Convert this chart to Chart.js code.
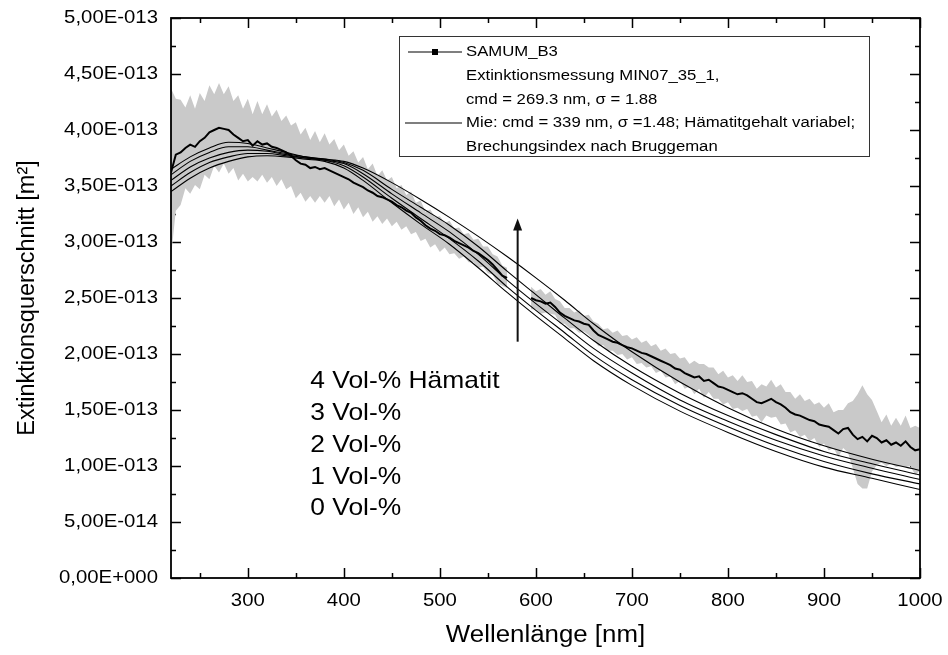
<!DOCTYPE html>
<html>
<head>
<meta charset="utf-8">
<script src="https://cdn.jsdelivr.net/npm/chart.js@4.4.1/dist/chart.umd.min.js"></script>
<style>
  html, body { margin: 0; padding: 0; background: #fff; }
  canvas { display: block; }
</style>
</head>
<body>
<canvas id="chart" width="948" height="655"></canvas>
<script>
// Measured extinction cross section (units of 1e-13 m^2) with its standard deviation
const wavelength = [
  220,225,230,235,240,245,250,255,260,265,270,275,280,285,290,295,300,305,310,315,
  320,325,330,335,340,345,350,355,360,365,370,375,380,385,390,395,400,405,410,415,
  420,425,430,435,440,445,450,455,460,465,470,475,480,485,490,495,500,505,510,515,
  520,525,530,535,540,545,550,555,560,565,570,
  595,600,605,610,615,620,625,630,635,640,645,650,655,660,665,670,675,680,685,690,
  695,700,705,710,715,720,725,730,735,740,745,750,755,760,765,770,775,780,785,790,
  795,800,805,810,815,820,825,830,835,840,845,850,855,860,865,870,875,880,885,890,
  895,900,905,910,915,920,925,930,935,940,945,950,955,960,965,970,975,980,985,990,
  995,1000
];
const extMean = [
  3.62,3.78,3.80,3.84,3.87,3.85,3.90,3.93,3.98,4.00,4.02,4.01,4.00,3.96,3.93,3.90,3.91,3.86,3.90,3.87,
  3.88,3.85,3.84,3.82,3.80,3.77,3.73,3.70,3.69,3.66,3.67,3.65,3.66,3.64,3.62,3.60,3.58,3.56,3.53,3.51,
  3.49,3.46,3.44,3.41,3.40,3.38,3.36,3.33,3.31,3.28,3.26,3.22,3.19,3.15,3.12,3.10,3.07,3.06,3.04,3.01,
  2.99,2.97,2.95,2.92,2.90,2.87,2.84,2.80,2.75,2.70,2.68,
  2.50,2.48,2.47,2.45,2.46,2.42,2.37,2.34,2.32,2.30,2.29,2.27,2.26,2.21,2.17,2.15,2.13,2.11,2.10,2.08,
  2.06,2.05,2.03,2.01,2.00,1.98,1.96,1.94,1.92,1.90,1.87,1.86,1.83,1.81,1.79,1.80,1.76,1.77,1.74,1.71,
  1.70,1.68,1.66,1.64,1.65,1.63,1.60,1.57,1.56,1.58,1.60,1.57,1.55,1.52,1.48,1.46,1.45,1.43,1.41,1.40,
  1.37,1.36,1.35,1.32,1.29,1.33,1.34,1.28,1.24,1.26,1.22,1.27,1.25,1.21,1.23,1.19,1.21,1.18,1.22,1.17,
  1.14,1.15
];
const extError = [
  0.75,0.50,0.47,0.36,0.44,0.34,0.43,0.33,0.42,0.32,0.40,0.31,0.39,0.30,0.38,0.29,0.37,0.28,0.36,0.27,
  0.35,0.27,0.34,0.26,0.33,0.27,0.34,0.26,0.33,0.25,0.32,0.24,0.31,0.23,0.30,0.22,0.29,0.21,0.28,0.20,
  0.27,0.19,0.26,0.18,0.24,0.17,0.22,0.15,0.20,0.14,0.19,0.13,0.18,0.12,0.17,0.12,0.16,0.11,0.15,0.11,
  0.14,0.10,0.13,0.10,0.13,0.09,0.12,0.09,0.12,0.09,0.09,
  0.10,0.08,0.11,0.08,0.10,0.07,0.10,0.07,0.09,0.07,0.10,0.07,0.09,0.08,0.10,0.07,0.10,0.08,0.11,0.08,
  0.11,0.08,0.12,0.09,0.12,0.09,0.13,0.09,0.13,0.10,0.14,0.10,0.14,0.10,0.15,0.11,0.15,0.11,0.14,0.11,
  0.15,0.11,0.15,0.12,0.16,0.12,0.16,0.12,0.17,0.13,0.17,0.13,0.18,0.14,0.18,0.14,0.19,0.15,0.19,0.15,
  0.20,0.16,0.21,0.16,0.21,0.17,0.22,0.30,0.40,0.46,0.42,0.32,0.24,0.18,0.23,0.17,0.22,0.18,0.23,0.17,
  0.22,0.19
];

// Mie calculations (cmd = 339 nm, sigma = 1.48) for 0..4 Vol-% hematite
const mieWavelength = [220,240,260,280,300,320,340,360,380,400,420,450,480,510,540,570,600,630,660,700,750,800,850,900,950,1000];
const mieHem4 = [3.65,3.76,3.84,3.89,3.88,3.84,3.80,3.76,3.74,3.72,3.66,3.53,3.38,3.22,3.05,2.87,2.68,2.48,2.27,2.02,1.75,1.52,1.33,1.18,1.06,0.96];
const mieHem3 = [3.60,3.72,3.80,3.85,3.85,3.82,3.79,3.76,3.74,3.71,3.64,3.47,3.31,3.15,2.96,2.74,2.53,2.32,2.12,1.89,1.65,1.45,1.28,1.13,1.02,0.92];
const mieHem2 = [3.55,3.67,3.75,3.80,3.82,3.81,3.78,3.75,3.73,3.70,3.61,3.43,3.26,3.09,2.89,2.66,2.45,2.25,2.05,1.83,1.59,1.40,1.23,1.09,0.98,0.88];
const mieHem1 = [3.50,3.62,3.71,3.76,3.79,3.79,3.77,3.75,3.73,3.68,3.58,3.39,3.21,3.03,2.83,2.60,2.39,2.19,1.99,1.77,1.54,1.35,1.18,1.04,0.93,0.84];
const mieHem0 = [3.45,3.57,3.66,3.72,3.76,3.77,3.76,3.74,3.72,3.66,3.55,3.35,3.16,2.98,2.77,2.55,2.34,2.14,1.94,1.72,1.49,1.30,1.13,0.99,0.89,0.79];

// Axis ticks
const xTicks = [300,400,500,600,700,800,900,1000];
const xMinorTicks = [250,350,450,550,650,750,850,950];
const yTicks = [0,0.5,1,1.5,2,2.5,3,3.5,4,4.5,5];
const yMinorTicks = [0.25,0.75,1.25,1.75,2.25,2.75,3.25,3.75,4.25,4.75];
const yUnit = 1e-13;

// Annotation texts and arrow
const hematiteLabels = ['4 Vol-% Hämatit','3 Vol-%','2 Vol-%','1 Vol-%','0 Vol-%'];
const hematiteLabelX = 365;
const hematiteLabelY = [1.76,1.47,1.18,0.90,0.62];
const arrowX = 581, arrowFrom = 2.11, arrowTo = 3.21;

const legendRows = [
  'SAMUM_B3',
  'Extinktionsmessung MIN07_35_1,',
  'cmd = 269.3 nm, \u03c3 = 1.88',
  'Mie: cmd = 339 nm, \u03c3 =1.48; Hämatitgehalt variabel;',
  'Brechungsindex nach Bruggeman'
];

const FONT = '"Liberation Sans", Arial, sans-serif';
const TEXT_STRETCH = 1.1;

// split the measurement into points with a null break where the spectrum has a gap
function buildPoints(values) {
  const pts = [];
  for (let i = 0; i < wavelength.length; i++) {
    if (i > 0 && wavelength[i] - wavelength[i - 1] > 10) {
      pts.push({x: (wavelength[i] + wavelength[i - 1]) / 2, y: null});
    }
    pts.push({x: wavelength[i], y: values(i)});
  }
  return pts;
}
const upperPts = buildPoints(i => extMean[i] + extError[i]);
const lowerPts = buildPoints(i => extMean[i] - extError[i]);
const meanPts = buildPoints(i => extMean[i]);

function miePts(arr) { return mieWavelength.map((w, i) => ({x: w, y: arr[i]})); }
const mieSets = [mieHem0, mieHem1, mieHem2, mieHem3, mieHem4].map(arr => ({
  data: miePts(arr),
  borderColor: '#000',
  borderWidth: 1.1,
  pointRadius: 0,
  fill: false,
  order: 2,
  cubicInterpolationMode: 'monotone'
}));

function sciLabel(v) {
  const x = v * yUnit;
  if (Math.abs(x) < 1e-30) return '0,00E+000';
  const parts = x.toExponential(2).split('e');
  const e = parseInt(parts[1], 10);
  return parts[0].replace('.', ',') + 'E' + (e < 0 ? '-' : '+') + String(Math.abs(e)).padStart(3, '0');
}

function drawText(ctx, text, x, y, size, align, baseline, rot) {
  ctx.save();
  ctx.translate(x, y);
  if (rot) ctx.rotate(rot);
  else ctx.scale(TEXT_STRETCH, 1);
  ctx.font = size + 'px ' + FONT;
  ctx.fillStyle = '#000';
  ctx.textAlign = align;
  ctx.textBaseline = baseline;
  ctx.fillText(text, 0, 0);
  ctx.restore();
}

const axisTicksPlugin = {
  id: 'axisTicks',
  beforeDatasetsDraw(chart) {
    const {ctx, chartArea: a, scales: {x, y}} = chart;
    ctx.save();
    ctx.strokeStyle = '#000';
    ctx.lineWidth = 1.5;
    ctx.beginPath();
    const vt = (list, len) => list.forEach(v => {
      const px = Math.round(x.getPixelForValue(v)) + 0.5;
      ctx.moveTo(px, a.bottom); ctx.lineTo(px, a.bottom - len);
      ctx.moveTo(px, a.top); ctx.lineTo(px, a.top + len);
    });
    const ht = (list, len) => list.forEach(v => {
      const py = Math.round(y.getPixelForValue(v)) + 0.5;
      ctx.moveTo(a.left, py); ctx.lineTo(a.left + len, py);
      ctx.moveTo(a.right, py); ctx.lineTo(a.right - len, py);
    });
    vt(xTicks, 10); vt(xMinorTicks, 5);
    ht(yTicks, 10); ht(yMinorTicks, 5);
    ctx.stroke();
    ctx.restore();
  },
  afterDatasetsDraw(chart) {
    const {ctx, chartArea: a, scales: {x, y}} = chart;
    ctx.save();
    // frame
    ctx.strokeStyle = '#000';
    ctx.lineWidth = 1.8;
    ctx.strokeRect(a.left, a.top, a.right - a.left, a.bottom - a.top);

    // tick labels
    xTicks.forEach(v => drawText(ctx, String(v), x.getPixelForValue(v), a.bottom + 23, 18.5, 'center', 'middle'));
    yTicks.forEach(v => drawText(ctx, sciLabel(v), a.left - 13, y.getPixelForValue(v), 18.5, 'right', 'middle'));

    // axis titles
    drawText(ctx, 'Wellenlänge [nm]', (a.left + a.right) / 2, 636, 23.5, 'center', 'middle');
    drawText(ctx, 'Extinktionsquerschnitt [m\u00b2]', 28, (a.top + a.bottom) / 2, 23.5, 'center', 'middle', -Math.PI / 2);

    // arrow
    const ax = x.getPixelForValue(arrowX);
    const y0 = y.getPixelForValue(arrowFrom), y1 = y.getPixelForValue(arrowTo);
    ctx.strokeStyle = '#111';
    ctx.fillStyle = '#111';
    ctx.lineWidth = 2;
    ctx.beginPath();
    ctx.moveTo(ax, y0); ctx.lineTo(ax, y1 + 10);
    ctx.stroke();
    ctx.beginPath();
    ctx.moveTo(ax, y1); ctx.lineTo(ax - 4.5, y1 + 12); ctx.lineTo(ax + 4.5, y1 + 12); ctx.closePath();
    ctx.fill();

    // hematite content labels
    hematiteLabels.forEach((t, i) => drawText(ctx, t, x.getPixelForValue(hematiteLabelX), y.getPixelForValue(hematiteLabelY[i]), 24, 'left', 'middle'));

    // legend
    const bx = 399.5, by = 36.5, bw = 470, bh = 120;
    ctx.fillStyle = '#fff';
    ctx.fillRect(bx, by, bw, bh);
    ctx.strokeStyle = '#333';
    ctx.lineWidth = 1;
    ctx.strokeRect(bx, by, bw, bh);
    const rowY = [52, 76, 100, 123, 147];
    const tx = 466;
    ctx.strokeStyle = '#000';
    ctx.lineWidth = 1.2;
    ctx.beginPath();
    ctx.moveTo(408, rowY[0]); ctx.lineTo(462, rowY[0]);
    ctx.moveTo(405, rowY[3]); ctx.lineTo(462, rowY[3]);
    ctx.stroke();
    ctx.fillStyle = '#000';
    ctx.fillRect(432, rowY[0] - 3, 6, 6);
    legendRows.forEach((t, i) => drawText(ctx, t, tx, rowY[i], 15.2, 'left', 'middle'));
    ctx.restore();
  }
};

new Chart(document.getElementById('chart'), {
  type: 'line',
  data: {
    datasets: [
      {data: upperPts, borderColor: 'rgba(0,0,0,0)', borderWidth: 1, pointRadius: 0, fill: false,
       spanGaps: false, order: 4},
      {data: lowerPts, borderColor: 'rgba(0,0,0,0)', borderWidth: 1, pointRadius: 0, fill: '-1',
       backgroundColor: '#c9c9c9', spanGaps: false, order: 3},
      ...mieSets,
      {data: meanPts, borderColor: '#000', borderWidth: 2, pointRadius: 0, fill: false, spanGaps: false, order: 1}
    ]
  },
  options: {
    responsive: false,
    animation: false,
    devicePixelRatio: 1,
    layout: {padding: {top: 18, right: 28, left: 0, bottom: 0}},
    plugins: {legend: {display: false}, tooltip: {enabled: false}},
    scales: {
      x: {
        type: 'linear', min: 220, max: 1000,
        grid: {display: false}, border: {display: false},
        ticks: {display: false},
        afterBuildTicks(s) { s.ticks = xTicks.map(v => ({value: v})); },
        afterFit(s) { s.height = 77; }
      },
      y: {
        type: 'linear', min: 0, max: 5,
        grid: {display: false}, border: {display: false},
        ticks: {display: false},
        afterBuildTicks(s) { s.ticks = yTicks.map(v => ({value: v})); },
        afterFit(s) { s.width = 171; }
      }
    }
  },
  plugins: [axisTicksPlugin]
});
</script>
</body>
</html>
